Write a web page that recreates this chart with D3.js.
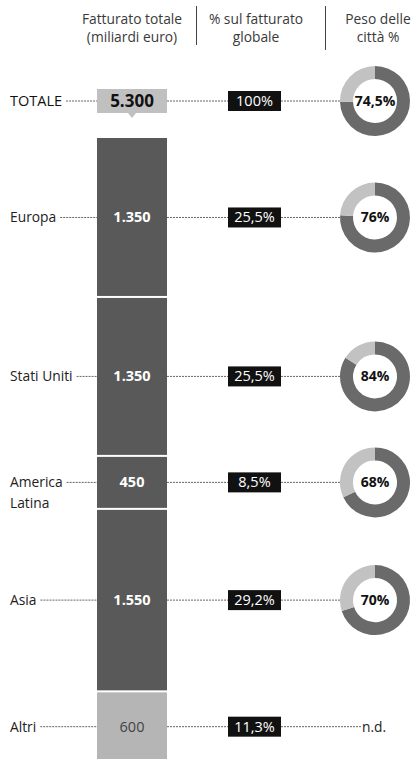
<!DOCTYPE html>
<html><head><meta charset="utf-8">
<script src="https://cdn.jsdelivr.net/npm/d3@7"></script>
<style>html,body{margin:0;padding:0;background:#fff;}svg{display:block;font-family:"Open Sans",sans-serif;}</style>
</head><body>
<svg id="c" width="414" height="759"></svg>
<script>
const categories = ["Europa", "Stati Uniti", "America Latina", "Asia", "Altri"];
const labelLines = [["Europa"], ["Stati Uniti"], ["America", "Latina"], ["Asia"], ["Altri"]];
const revenue = [1350, 1350, 450, 1550, 600];
const revenueLabels = ["1.350", "1.350", "450", "1.550", "600"];
const shareLabels = ["25,5%", "25,5%", "8,5%", "29,2%", "11,3%"];
const cityWeight = [76, 84, 68, 70, null];
const cityWeightLabels = ["76%", "84%", "68%", "70%", "n.d."];
const totalLabel = "TOTALE";
const totalRevenueLabel = "5.300";
const totalShareLabel = "100%";
const totalCityWeight = 74.5;
const totalCityWeightLabel = "74,5%";
const headers = [["Fatturato totale", "(miliardi euro)"], ["% sul fatturato", "globale"], ["Peso delle", "città %"]];

const svg = d3.select("#c");
const total = d3.sum(revenue);
const y = d3.scaleLinear().domain([0, total]).range([138, 762]);
const barX0 = 97, barX1 = 167, barCx = (barX0 + barX1) / 2;
const pctX0 = 228, pctX1 = 281, pctCx = (pctX0 + pctX1) / 2;
const donutCx = 375, rOuter = 35, rInner = 22;
const darkBar = "#595959", lightBar = "#b5b5b5";
const donutDark = "#6a6a6a", donutLight = "#c2c2c2";
const lineCol = "#666";

// headers
const headerX = [barCx, 256, 378];
headers.forEach((h, i) => {
  h.forEach((t, j) => {
    svg.append("text").attr("x", headerX[i]).attr("y", 24 + j * 18)
      .attr("text-anchor", "middle").attr("font-size", 13.8).attr("fill", "#3a3a3a").text(t);
  });
});
svg.append("line").attr("x1", 196.5).attr("x2", 196.5).attr("y1", 6).attr("y2", 45).attr("stroke", "#444");
svg.append("line").attr("x1", 325.5).attr("x2", 325.5).attr("y1", 6).attr("y2", 50).attr("stroke", "#444");

let cum = 0;
const segs = revenue.map((v, i) => { const s = {i, v, a: cum, b: cum + v}; cum += v; return s; });

function dashLine(x1, x2, yy) {
  svg.append("line").attr("x1", x1).attr("x2", x2).attr("y1", yy).attr("y2", yy)
    .attr("stroke", lineCol).attr("stroke-width", 1).attr("stroke-dasharray", "2,1");
}
const arc = d3.arc().innerRadius(rInner).outerRadius(rOuter);
function donut(cy, val, label) {
  const g = svg.append("g").attr("transform", `translate(${donutCx},${cy})`);
  const pie = d3.pie().sort(null).value(d => d)([val, 100 - val]);
  g.selectAll("path").data(pie).join("path").attr("d", arc)
    .attr("fill", (d, k) => k === 0 ? donutDark : donutLight);
  g.append("text").attr("y", 5).attr("text-anchor", "middle").attr("font-size", 14)
    .attr("font-weight", "bold").attr("fill", "#111").text(label);
}
function pctBox(cy, label) {
  svg.append("rect").attr("x", pctX0).attr("y", cy - 10).attr("width", pctX1 - pctX0).attr("height", 20).attr("fill", "#111");
  svg.append("text").attr("x", pctCx).attr("y", cy + 5).attr("text-anchor", "middle")
    .attr("font-size", 14.5).attr("fill", "#fff").text(label);
}

segs.forEach(s => {
  const top = y(s.a), bot = y(s.b);
  const isLast = s.i === segs.length - 1;
  svg.append("rect").attr("x", barX0).attr("y", top + (s.i ? 1 : 0)).attr("width", barX1 - barX0)
    .attr("height", bot - top - (s.i ? 1 : 0) - (isLast ? 0 : 1))
    .attr("fill", isLast ? lightBar : darkBar);
  const cy = (top + bot) / 2;
  const lines = labelLines[s.i];
  const lab = svg.append("text").attr("x", 10).attr("y", cy + 5).attr("font-size", 13.8).attr("fill", "#222");
  lines.forEach((t, j) => lab.append("tspan").attr("x", 10).attr("dy", j ? 21 : 0).text(t));
  const w = lab.select("tspan").node().getComputedTextLength();
  dashLine(10 + w + 4, barX0, cy);
  svg.append("text").attr("x", barCx).attr("y", cy + 5).attr("text-anchor", "middle")
    .attr("font-size", 14.5).attr("font-weight", isLast ? "normal" : "bold")
    .attr("fill", isLast ? "#444" : "#fff").text(revenueLabels[s.i]);
  dashLine(barX1, pctX0, cy);
  pctBox(cy, shareLabels[s.i]);
  if (cityWeight[s.i] != null) {
    dashLine(pctX1, donutCx - rOuter, cy);
    donut(cy, cityWeight[s.i], cityWeightLabels[s.i]);
  } else {
    dashLine(pctX1, 361, cy);
    svg.append("text").attr("x", 362).attr("y", cy + 5).attr("font-size", 13.8).attr("fill", "#222").text(cityWeightLabels[s.i]);
  }
});

// total row
const ty = 101;
const tl = svg.append("text").attr("x", 10).attr("y", ty + 5).attr("font-size", 14.5).attr("fill", "#111").text(totalLabel);
dashLine(10 + tl.node().getComputedTextLength() + 4, barX0, ty);
svg.append("path").attr("d", `M${barX0},${ty-12}H${barX1}V${ty+12}H${barCx+4}L${barCx},${ty+17}L${barCx-4},${ty+12}H${barX0}Z`).attr("fill", "#c0c0c0");
svg.append("text").attr("x", barCx).attr("y", ty + 6).attr("text-anchor", "middle").attr("font-size", 17)
  .attr("font-weight", "bold").attr("fill", "#111").text(totalRevenueLabel);
dashLine(barX1, pctX0, ty);
pctBox(ty, totalShareLabel);
dashLine(pctX1, donutCx - rOuter, ty);
donut(ty, totalCityWeight, totalCityWeightLabel);
</script>
</body></html>
